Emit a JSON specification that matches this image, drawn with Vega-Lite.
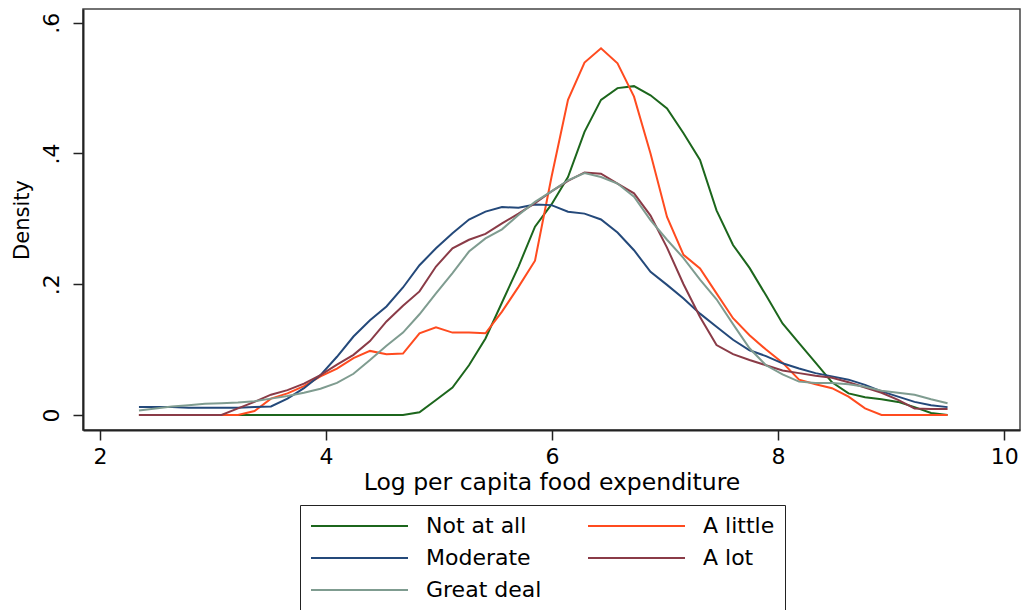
{
  "$schema": "https://vega.github.io/schema/vega-lite/v6.json",
  "autosize": {"type": "none"},
  "padding": {"left": 83, "top": 9, "right": 2, "bottom": 180},
  "width": 937,
  "height": 421,
  "background": "white",
  "config": {
    "font": "DejaVu Sans",
    "view": {"stroke": "#444444", "strokeWidth": 1.5},
    "axis": {"grid": false, "domainColor": "#222222", "domainWidth": 2, "tickColor": "#222222", "tickWidth": 1.5, "tickSize": 10, "labelColor": "black", "titleColor": "black", "labelFont": "DejaVu Sans", "titleFont": "DejaVu Sans", "titleFontWeight": "normal"}
  },
  "data": {
    "values": [
      {"x": 2.345, "Not at all": 0, "A little": 0, "Moderate": 0.012, "A lot": 0, "Great deal": 0.007},
      {"x": 2.491, "Not at all": 0, "A little": 0, "Moderate": 0.012, "A lot": 0, "Great deal": 0.010},
      {"x": 2.637, "Not at all": 0, "A little": 0, "Moderate": 0.012, "A lot": 0, "Great deal": 0.013},
      {"x": 2.783, "Not at all": 0, "A little": 0, "Moderate": 0.011, "A lot": 0, "Great deal": 0.015},
      {"x": 2.929, "Not at all": 0, "A little": 0, "Moderate": 0.011, "A lot": 0, "Great deal": 0.017},
      {"x": 3.075, "Not at all": 0, "A little": 0, "Moderate": 0.011, "A lot": 0, "Great deal": 0.018},
      {"x": 3.221, "Not at all": 0, "A little": 0, "Moderate": 0.011, "A lot": 0.010, "Great deal": 0.019},
      {"x": 3.367, "Not at all": 0, "A little": 0.006, "Moderate": 0.012, "A lot": 0.020, "Great deal": 0.021},
      {"x": 3.513, "Not at all": 0, "A little": 0.025, "Moderate": 0.013, "A lot": 0.031, "Great deal": 0.025},
      {"x": 3.659, "Not at all": 0, "A little": 0.033, "Moderate": 0.025, "A lot": 0.038, "Great deal": 0.029},
      {"x": 3.805, "Not at all": 0, "A little": 0.044, "Moderate": 0.041, "A lot": 0.048, "Great deal": 0.034},
      {"x": 3.951, "Not at all": 0, "A little": 0.059, "Moderate": 0.061, "A lot": 0.061, "Great deal": 0.040},
      {"x": 4.097, "Not at all": 0, "A little": 0.071, "Moderate": 0.089, "A lot": 0.077, "Great deal": 0.049},
      {"x": 4.243, "Not at all": 0, "A little": 0.087, "Moderate": 0.120, "A lot": 0.092, "Great deal": 0.063},
      {"x": 4.389, "Not at all": 0, "A little": 0.098, "Moderate": 0.145, "A lot": 0.113, "Great deal": 0.084},
      {"x": 4.535, "Not at all": 0, "A little": 0.093, "Moderate": 0.166, "A lot": 0.143, "Great deal": 0.106},
      {"x": 4.681, "Not at all": 0, "A little": 0.094, "Moderate": 0.195, "A lot": 0.167, "Great deal": 0.126},
      {"x": 4.827, "Not at all": 0.004, "A little": 0.125, "Moderate": 0.229, "A lot": 0.189, "Great deal": 0.154},
      {"x": 4.973, "Not at all": 0.023, "A little": 0.134, "Moderate": 0.255, "A lot": 0.227, "Great deal": 0.186},
      {"x": 5.119, "Not at all": 0.042, "A little": 0.126, "Moderate": 0.278, "A lot": 0.255, "Great deal": 0.217},
      {"x": 5.265, "Not at all": 0.076, "A little": 0.126, "Moderate": 0.299, "A lot": 0.268, "Great deal": 0.250},
      {"x": 5.411, "Not at all": 0.117, "A little": 0.125, "Moderate": 0.311, "A lot": 0.277, "Great deal": 0.270},
      {"x": 5.557, "Not at all": 0.172, "A little": 0.158, "Moderate": 0.318, "A lot": 0.293, "Great deal": 0.284},
      {"x": 5.703, "Not at all": 0.227, "A little": 0.196, "Moderate": 0.317, "A lot": 0.308, "Great deal": 0.306},
      {"x": 5.849, "Not at all": 0.288, "A little": 0.236, "Moderate": 0.322, "A lot": 0.324, "Great deal": 0.326},
      {"x": 5.995, "Not at all": 0.322, "A little": 0.364, "Moderate": 0.321, "A lot": 0.342, "Great deal": 0.342},
      {"x": 6.141, "Not at all": 0.364, "A little": 0.482, "Moderate": 0.311, "A lot": 0.358, "Great deal": 0.359},
      {"x": 6.287, "Not at all": 0.433, "A little": 0.539, "Moderate": 0.308, "A lot": 0.371, "Great deal": 0.370},
      {"x": 6.433, "Not at all": 0.482, "A little": 0.561, "Moderate": 0.299, "A lot": 0.369, "Great deal": 0.364},
      {"x": 6.579, "Not at all": 0.500, "A little": 0.538, "Moderate": 0.279, "A lot": 0.354, "Great deal": 0.354},
      {"x": 6.725, "Not at all": 0.503, "A little": 0.487, "Moderate": 0.252, "A lot": 0.339, "Great deal": 0.334},
      {"x": 6.871, "Not at all": 0.489, "A little": 0.400, "Moderate": 0.219, "A lot": 0.305, "Great deal": 0.298},
      {"x": 7.017, "Not at all": 0.469, "A little": 0.303, "Moderate": 0.199, "A lot": 0.256, "Great deal": 0.268},
      {"x": 7.163, "Not at all": 0.431, "A little": 0.245, "Moderate": 0.178, "A lot": 0.200, "Great deal": 0.240},
      {"x": 7.309, "Not at all": 0.390, "A little": 0.224, "Moderate": 0.155, "A lot": 0.150, "Great deal": 0.207},
      {"x": 7.455, "Not at all": 0.313, "A little": 0.186, "Moderate": 0.135, "A lot": 0.107, "Great deal": 0.177},
      {"x": 7.601, "Not at all": 0.260, "A little": 0.148, "Moderate": 0.115, "A lot": 0.093, "Great deal": 0.139},
      {"x": 7.747, "Not at all": 0.225, "A little": 0.122, "Moderate": 0.099, "A lot": 0.084, "Great deal": 0.102},
      {"x": 7.893, "Not at all": 0.183, "A little": 0.100, "Moderate": 0.090, "A lot": 0.076, "Great deal": 0.076},
      {"x": 8.039, "Not at all": 0.140, "A little": 0.080, "Moderate": 0.079, "A lot": 0.068, "Great deal": 0.062},
      {"x": 8.185, "Not at all": 0.110, "A little": 0.054, "Moderate": 0.071, "A lot": 0.064, "Great deal": 0.051},
      {"x": 8.331, "Not at all": 0.080, "A little": 0.047, "Moderate": 0.064, "A lot": 0.060, "Great deal": 0.049},
      {"x": 8.477, "Not at all": 0.050, "A little": 0.041, "Moderate": 0.059, "A lot": 0.057, "Great deal": 0.049},
      {"x": 8.623, "Not at all": 0.033, "A little": 0.028, "Moderate": 0.054, "A lot": 0.050, "Great deal": 0.047},
      {"x": 8.769, "Not at all": 0.027, "A little": 0.010, "Moderate": 0.046, "A lot": 0.042, "Great deal": 0.043},
      {"x": 8.915, "Not at all": 0.024, "A little": 0, "Moderate": 0.036, "A lot": 0.034, "Great deal": 0.037},
      {"x": 9.061, "Not at all": 0.020, "A little": 0, "Moderate": 0.028, "A lot": 0.023, "Great deal": 0.034},
      {"x": 9.207, "Not at all": 0.012, "A little": 0, "Moderate": 0.020, "A lot": 0.010, "Great deal": 0.031},
      {"x": 9.353, "Not at all": 0.003, "A little": 0, "Moderate": 0.015, "A lot": 0.009, "Great deal": 0.024},
      {"x": 9.499, "Not at all": 0, "A little": 0, "Moderate": 0.012, "A lot": 0.009, "Great deal": 0.018}
    ]
  },
  "transform": [
    {"fold": ["Not at all", "A little", "Moderate", "A lot", "Great deal"], "as": ["group", "density"]}
  ],
  "mark": {"type": "line", "strokeWidth": 2, "clip": true},
  "encoding": {
    "x": {
      "field": "x", "type": "quantitative",
      "scale": {"domain": [1.85, 10.14], "nice": false, "zero": false},
      "axis": {"values": [2, 4, 6, 8, 10], "title": "Log per capita food expenditure", "labelFontSize": 22, "titleFontSize": 23.5, "labelPadding": 6, "titlePadding": 3}
    },
    "y": {
      "field": "density", "type": "quantitative",
      "scale": {"domain": [-0.023, 0.621], "nice": false, "zero": false},
      "axis": {"values": [0, 0.2, 0.4, 0.6], "labelExpr": "datum.value == 0 ? '0' : replace(format(datum.value, '.1f'), '0.', '.')", "labelAngle": -90, "labelAlign": "center", "labelBaseline": "bottom", "labelFontSize": 22, "labelPadding": 10, "title": "Density", "titleFontSize": 21, "titlePadding": 8}
    },
    "color": {
      "field": "group", "type": "nominal",
      "scale": {"domain": ["Not at all", "Moderate", "Great deal", "A little", "A lot"], "range": ["#1c661c", "#24497a", "#7f9c90", "#ff4b1f", "#8a3b47"]},
      "legend": {
        "title": null, "orient": "none", "legendX": 217, "legendY": 496, "columns": 2, "columnPadding": 45,
        "symbolType": "stroke", "symbolSize": 9409, "symbolStrokeWidth": 2, "labelFontSize": 22, "labelOffset": 17,
        "strokeColor": "#222222", "padding": 10, "rowPadding": 10, "clipHeight": 22, "labelColor": "black"
      }
    }
  }
}
